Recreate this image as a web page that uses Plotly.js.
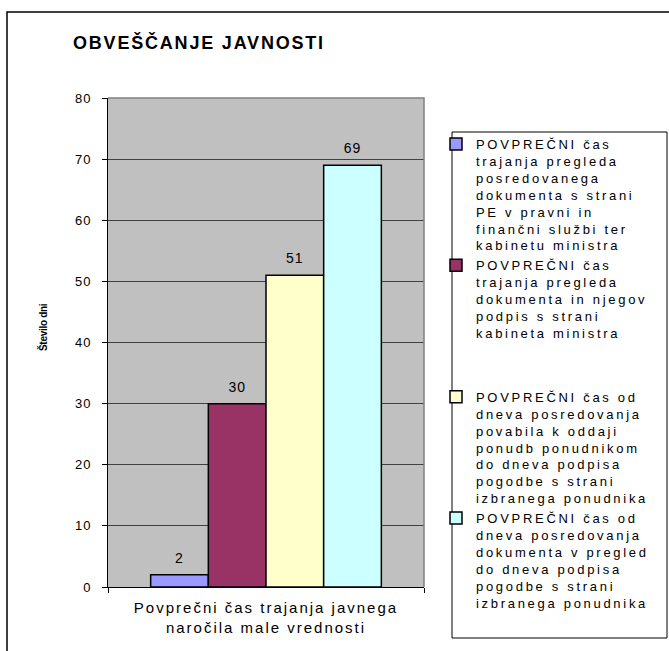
<!DOCTYPE html>
<html>
<head>
<meta charset="utf-8">
<script src="https://cdn.plot.ly/plotly-3.0.1.min.js"></script>
<style>
  html, body { margin: 0; padding: 0; background: #fff; }
  #chart { width: 669px; height: 651px; }
  .legendtext { letter-spacing: 2.7px; }
  .gtitle { letter-spacing: 1.8px; }
  .xtick text { letter-spacing: 2px; }
  .ytick text { letter-spacing: 1px; }
  .bartext { letter-spacing: 1px; }
  .annotation-text { letter-spacing: -0.3px; }
</style>
</head>
<body>
<div id="chart"></div>
<script>
// ---- data ----
const categories = ["Povprečni čas trajanja javnega<br>naročila male vrednosti"];
const seriesNames = [
  "POVPREČNI čas<br>trajanja pregleda<br>posredovanega<br>dokumenta s strani<br>PE v pravni in<br>finančni službi ter<br>kabinetu ministra",
  "POVPREČNI čas<br>trajanja pregleda<br>dokumenta in njegov<br>podpis s strani<br>kabineta ministra",
  "POVPREČNI čas od<br>dneva posredovanja<br>povabila k oddaji<br>ponudb ponudnikom<br>do dneva podpisa<br>pogodbe s strani<br>izbranega ponudnika",
  "POVPREČNI čas od<br>dneva posredovanja<br>dokumenta v pregled<br>do dneva podpisa<br>pogodbe s strani<br>izbranega ponudnika"
];
const series1 = [2];
const series2 = [30];
const series3 = [51];
const series4 = [69];
const yTickVals = [0, 10, 20, 30, 40, 50, 60, 70, 80];

const chartTitle = "OBVEŠČANJE JAVNOSTI";
const yTitle = "Število dni";

// ---- styles ----
const colors = ["#9999FF", "#993366", "#FFFFCC", "#CCFFFF"];
const groups = ["g1", "g1", "g2", "g2"];
const FONT = "Liberation Sans, Arial, Helvetica, sans-serif";
const NB = "\u00a0";

const allSeries = [series1, series2, series3, series4];
const traces = allSeries.map((vals, i) => ({
  type: "bar",
  name: seriesNames[i],
  x: categories,
  y: vals,
  legendgroup: groups[i],
  marker: { color: colors[i], line: { color: "#000", width: 1.5 } },
  // label drawn at 14px; a small trailing line lifts it a little above the bar
  texttemplate: '<span style="font-size:14px">%{y}</span><br>' + NB,
  textposition: "outside",
  textfont: { family: FONT, size: 6, color: "#000" },
  constraintext: "none",
  cliponaxis: false,
  hoverinfo: "y"
}));

// pixel geometry helpers
const W = 669, H = 651;
const L = 108, R = 245, T = 98, B = 64;
const PW = W - L - R, PH = H - T - B;
const px = v => (v - L) / PW;
const py = v => (H - B - v) / PH;

const layout = {
  width: W, height: H,
  margin: { l: L, r: R, t: T, b: B, pad: 0 },
  paper_bgcolor: "#fff",
  plot_bgcolor: "#C0C0C0",
  font: { family: FONT, color: "#000" },
  title: {
    text: "<b>" + chartTitle + "</b>",
    font: { family: FONT, size: 18, color: "#000", weight: "bold" },
    x: 73 / W, xanchor: "left", xref: "container",
    y: 1 - 43 / H, yanchor: "middle", yref: "container"
  },
  barmode: "group",
  bargap: 0.27,
  bargroupgap: 0,
  showlegend: true,
  legend: {
    x: px(436), xanchor: "left",
    y: py(129), yanchor: "top",
    bgcolor: "rgba(0,0,0,0)",
    borderwidth: 0,
    traceorder: "grouped",
    tracegroupgap: 44,
    valign: "top",
    font: { family: FONT, size: 13, color: "#000" }
  },
  xaxis: {
    type: "category",
    showline: true, linecolor: "#000", linewidth: 1,
    ticks: "outside", tickson: "boundaries", ticklen: 5, tickcolor: "#000", tickwidth: 1,
    ticklabelstandoff: 7,
    tickfont: { family: FONT, size: 15, color: "#000" },
    showgrid: false,
    fixedrange: true
  },
  yaxis: {
    range: [0, 80],
    tickvals: yTickVals,
    ticktext: yTickVals.map(String),
    showline: true, linecolor: "#000", linewidth: 1,
    ticks: "outside", ticklen: 5, tickcolor: "#000", tickwidth: 1,
    ticklabelstandoff: 8,
    tickfont: { family: FONT, size: 13, color: "#000" },
    showgrid: true, gridcolor: "#404040", gridwidth: 1,
    zeroline: false,
    fixedrange: true
  },
  annotations: [
    { // y-axis title
      text: "<b>" + yTitle + "</b>",
      xref: "paper", yref: "paper",
      x: px(43), y: py(327), xanchor: "center", yanchor: "middle",
      textangle: -90, showarrow: false,
      font: { family: FONT, size: 10, color: "#000", weight: "bold" }
    }
  ],
  shapes: [
    { type: "path", xref: "paper", yref: "paper", path: "M0,1L1,1L1,0",
      line: { color: "#808080", width: 1.5 }, layer: "above" },
    { type: "rect", xref: "paper", yref: "paper",
      x0: px(452), x1: px(667), y0: py(638), y1: py(132),
      line: { color: "#000", width: 1 }, fillcolor: "rgba(0,0,0,0)", layer: "above" },
    { type: "rect", xref: "paper", yref: "paper",
      x0: px(7), x1: px(700), y0: py(700), y1: py(12),
      line: { color: "#000", width: 1.5 }, fillcolor: "rgba(0,0,0,0)", layer: "above" }
  ]
};

Plotly.newPlot("chart", traces, layout, { displayModeBar: false, staticPlot: true });
</script>
</body>
</html>
